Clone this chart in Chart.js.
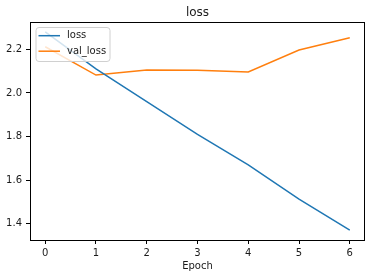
<!DOCTYPE html>
<html>
<head>
<meta charset="utf-8">
<script src="https://cdn.jsdelivr.net/npm/chart.js@4/dist/chart.umd.min.js"></script>
<style>
  html, body { margin: 0; padding: 0; background: #fff; }
  #lossChart { display: block; }
</style>
</head>
<body>
<canvas id="lossChart" width="372" height="278"></canvas>
<script>
// values
const epochs = [0, 1, 2, 3, 4, 5, 6];
const lossValues = [2.280, 2.110, 1.960, 1.810, 1.670, 1.513, 1.371];
const valLossValues = [2.212, 2.082, 2.105, 2.104, 2.096, 2.197, 2.253];
const xTickValues = [0, 1, 2, 3, 4, 5, 6];
const yTickValues = [1.4, 1.6, 1.8, 2.0, 2.2];

const fontFamily = '"DejaVu Sans", sans-serif';
const textColor = '#1a1a1a';

// draws the box round the plot and the legend in the upper left corner
const framePlugin = {
    id: 'frame',
    afterDraw(chart) {
        const ctx = chart.ctx;
        const area = chart.chartArea;
        ctx.save();
        ctx.strokeStyle = '#000';
        ctx.lineWidth = 1;
        ctx.strokeRect(area.left + 0.5, area.top + 0.5, area.right - area.left - 1, area.bottom - area.top);

        // legend box
        const bx = area.left + 6, by = area.top + 5.5, bw = 74, bh = 34;
        ctx.beginPath();
        ctx.roundRect(bx, by, bw, bh, 3);
        ctx.fillStyle = 'rgba(255,255,255,0.8)';
        ctx.fill();
        ctx.strokeStyle = '#d0d0d0';
        ctx.stroke();

        ctx.font = '10px ' + fontFamily;
        ctx.textBaseline = 'middle';
        ctx.textAlign = 'left';
        chart.data.datasets.forEach((ds, i) => {
            const y = area.top + 13.7 + i * 15.5;
            ctx.beginPath();
            ctx.moveTo(bx + 2.5, y);
            ctx.lineTo(bx + 24, y);
            ctx.strokeStyle = ds.borderColor;
            ctx.lineWidth = 1.5;
            ctx.stroke();
            ctx.fillStyle = textColor;
            ctx.fillText(ds.label, bx + 31, y);
        });
        ctx.restore();
    }
};

const ctx = document.getElementById('lossChart').getContext('2d');
new Chart(ctx, {
    type: 'line',
    data: {
        datasets: [
            {
                label: 'loss',
                data: epochs.map((e, i) => ({ x: e, y: lossValues[i] })),
                borderColor: '#1f77b4',
                borderWidth: 1.5,
                pointRadius: 0,
                tension: 0,
                fill: false
            },
            {
                label: 'val_loss',
                data: epochs.map((e, i) => ({ x: e, y: valLossValues[i] })),
                borderColor: '#ff7f0e',
                borderWidth: 1.5,
                pointRadius: 0,
                tension: 0,
                fill: false
            }
        ]
    },
    options: {
        responsive: false,
        animation: false,
        layout: { padding: { top: 0, right: 7, bottom: 0, left: 0 } },
        scales: {
            x: {
                type: 'linear',
                min: -0.3,
                max: 6.3,
                afterBuildTicks: scale => { scale.ticks = xTickValues.map(v => ({ value: v })); },
                afterFit: scale => { scale.height = 38; },
                border: { display: false },
                grid: { display: true, drawOnChartArea: false, drawTicks: true, tickLength: 4, tickColor: '#000', tickWidth: 1 },
                ticks: {
                    padding: 3,
                    maxRotation: 0,
                    color: textColor,
                    font: { family: fontFamily, size: 10 },
                    callback: v => String(v)
                },
                title: {
                    display: true,
                    text: 'Epoch',
                    color: textColor,
                    font: { family: fontFamily, size: 10 },
                    padding: { top: 0, bottom: 6 }
                }
            },
            y: {
                type: 'linear',
                min: 1.3255,
                max: 2.3255,
                afterBuildTicks: scale => { scale.ticks = yTickValues.map(v => ({ value: v })); },
                afterFit: scale => { scale.width = 30; },
                border: { display: false },
                grid: { display: true, drawOnChartArea: false, drawTicks: true, tickLength: 4, tickColor: '#000', tickWidth: 1 },
                ticks: {
                    padding: 4,
                    color: textColor,
                    font: { family: fontFamily, size: 10 },
                    callback: v => v.toFixed(1)
                }
            }
        },
        plugins: {
            legend: { display: false },
            tooltip: { enabled: false },
            title: {
                display: true,
                text: 'loss',
                fullSize: false,
                color: textColor,
                font: { family: fontFamily, size: 12, weight: 'normal' },
                padding: { top: 5.5, bottom: 2.1 }
            }
        }
    },
    plugins: [framePlugin]
});
</script>
</body>
</html>
